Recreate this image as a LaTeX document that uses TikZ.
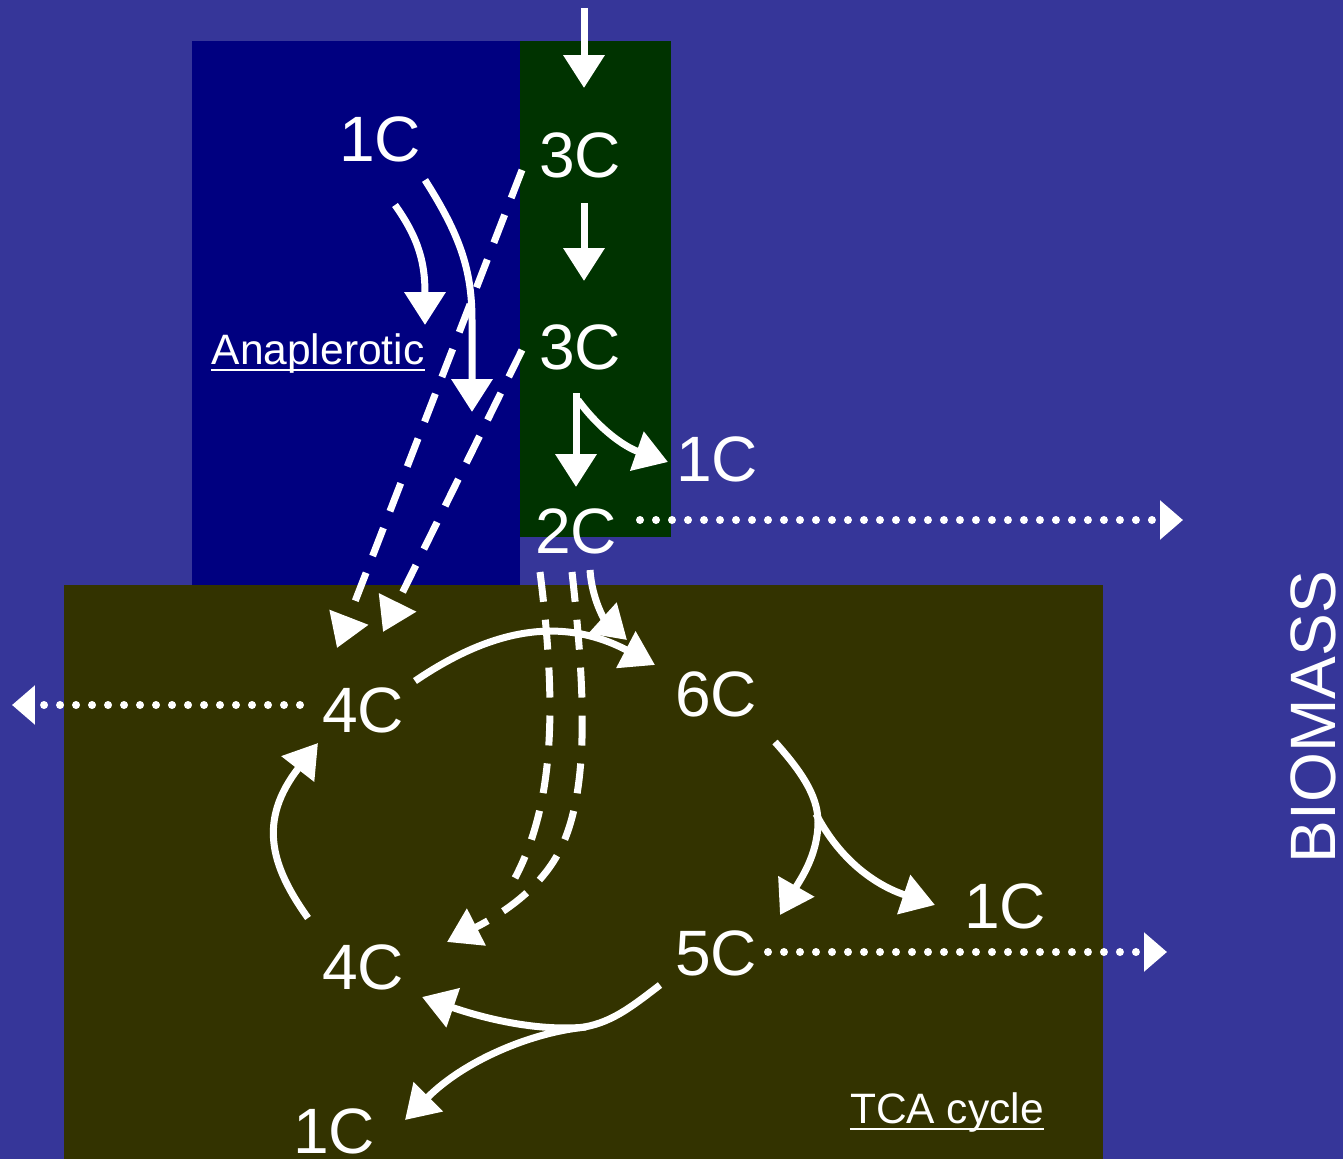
\documentclass[tikz,border=0pt]{standalone}
\usepackage{fontspec}
\setmainfont{Liberation Sans}
\usetikzlibrary{arrows.meta,calc}
\definecolor{bgc}{RGB}{54,54,153}
\definecolor{navyc}{RGB}{0,0,128}
\definecolor{greenc}{RGB}{0,51,0}
\definecolor{olivec}{RGB}{51,51,0}
\begin{document}
\begin{tikzpicture}[x=0.02cm,y=-0.02cm,
  lbl/.style={text=white,inner sep=0pt,font=\fontsize{36.5}{40}\selectfont},
  sm/.style={text=white,inner sep=0pt,font=\fontsize{24.2}{28}\selectfont},
  uline/.style={white,line width=0.05cm},
  plain/.style={white,line width=0.14cm},
  flow/.style={plain,-{Triangle[length=0.66cm,width=0.8cm]}},
  dflow/.style={flow,dash pattern=on 0.6cm off 0.36cm},
  dplain/.style={plain,dash pattern=on 0.6cm off 0.36cm},
  dotflow/.style={white,line width=0.16cm,line cap=round,dash pattern=on 0pt off 0.32cm,-{Triangle[length=0.46cm,width=0.76cm,line cap=butt]}}]
\useasboundingbox (0,0) rectangle (1343,1159);
\fill[bgc] (0,0) rectangle (1343,1159);
% boxes
\fill[navyc] (192,41) rectangle (520,585);
\fill[greenc] (520,41) rectangle (671,537);
\fill[olivec] (64,585) rectangle (1103,1159);
% nodes
\node[lbl] (c1a) at (380,139) {1C};
\node[lbl] (c3a) at (580,155) {3C};
\node[lbl] (c3b) at (580,347) {3C};
\node[lbl] (c1b) at (717,459) {1C};
\node[lbl] (c2) at (576,531) {2C};
\node[lbl] (c4a) at (363,710) {4C};
\node[lbl] (c6) at (716,694) {6C};
\node[lbl] (c4b) at (363,967) {4C};
\node[lbl] (c5) at (716,953) {5C};
\node[lbl] (c1c) at (1005,906) {1C};
\node[lbl] (c1d) at (334,1131) {1C};
\node[lbl,rotate=90] (bio) at (1313,717) {BIOMASS};
\node[sm,anchor=base] (ana) at (318,364) {Anaplerotic};
\node[sm,anchor=base] (tca) at (947,1123) {TCA cycle};
\draw[uline] ([shift={(0,6)}]ana.base west) -- ([shift={(0,6)}]ana.base east);
\draw[uline] ([shift={(0,6)}]tca.base west) -- ([shift={(0,6)}]tca.base east);
% free ends and junctions
\coordinate (top) at (584,8);
\coordinate (anaA) at (425,325);
\coordinate (anaB) at (472,412);
\coordinate (outR) at (1183,520);
\coordinate (outL) at (12,705);
\coordinate (outR2) at (1167,952);
\coordinate (dashL) at (515,878);
\coordinate (J1) at (818,822);
\coordinate (J2) at (578,1028);
% glycolysis chain
\draw[flow] (top) -- ([shift={(4,-67)}]c3a.center);
\draw[flow] ([shift={(4,48)}]c3a.center) -- ([shift={(4,-66)}]c3b.center);
\draw[flow] ([shift={(-4,46)}]c3b.center) -- ([shift={(0,-44)}]c2.center);
\draw[flow] ([shift={(-2,53)}]c3b.center) .. controls (600,430) and (625,447) .. ([shift={(-49,3)}]c1b.center);
% anaplerotic
\draw[flow] ([shift={(15,66)}]c1a.center) .. controls (420,240) and (425,265) .. (anaA);
\draw[flow] ([shift={(45,41)}]c1a.center) .. controls (460,235) and (472,270) .. (472,320) -- (anaB);
\draw[dflow] ([shift={(-58,15)}]c3a.center) -- ([shift={(-26,-62)}]c4a.center);
\draw[dflow] ([shift={(-58,3)}]c3b.center) -- ([shift={(20,-78)}]c4a.center);
% biomass outflows
\draw[dotflow] ([shift={(64,-11)}]c2.center) -- (outR);
\draw[dotflow] ([shift={(-63,-5)}]c4a.center) -- (outL);
\draw[dotflow] ([shift={(52,-1)}]c5.center) -- (outR2);
% TCA cycle
\draw[flow] ([shift={(14,39)}]c2.center) .. controls (592,600) and (605,620) .. ([shift={(-89,-54)}]c6.center);
\draw[flow] ([shift={(52,-29)}]c4a.center) .. controls (490,630) and (560,615) .. ([shift={(-61,-29)}]c6.center);
\draw[dplain] ([shift={(-36,41)}]c2.center) .. controls (556,700) and (556,800) .. (dashL);
\draw[dflow] ([shift={(-4,41)}]c2.center) .. controls (585,690) and (590,790) .. (560,850) .. controls (540,890) and (500,915) .. ([shift={(84,-25)}]c4b.center);
\draw[flow] ([shift={(-55,-49)}]c4b.center) .. controls (270,865) and (258,820) .. ([shift={(-45,33)}]c4a.center);
\draw[plain] ([shift={(59,48)}]c6.center) .. controls (800,770) and (818,795) .. (J1);
\draw[flow] (J1) .. controls (818,855) and (800,880) .. ([shift={(64,-38)}]c5.center);
\draw[flow] ([shift={(-2,-8)}]J1) .. controls (840,860) and (875,885) .. ([shift={(-70,-1)}]c1c.center);
\draw[plain] ([shift={(-56,32)}]c5.center) .. controls (630,1008) and (610,1024) .. (J2);
\draw[flow] ([shift={(8,-1)}]J2) .. controls (535,1032) and (480,1017) .. ([shift={(59,30)}]c4b.center);
\draw[flow] (J2) .. controls (530,1034) and (465,1060) .. ([shift={(71,-11)}]c1d.center);
\end{tikzpicture}
\end{document}
